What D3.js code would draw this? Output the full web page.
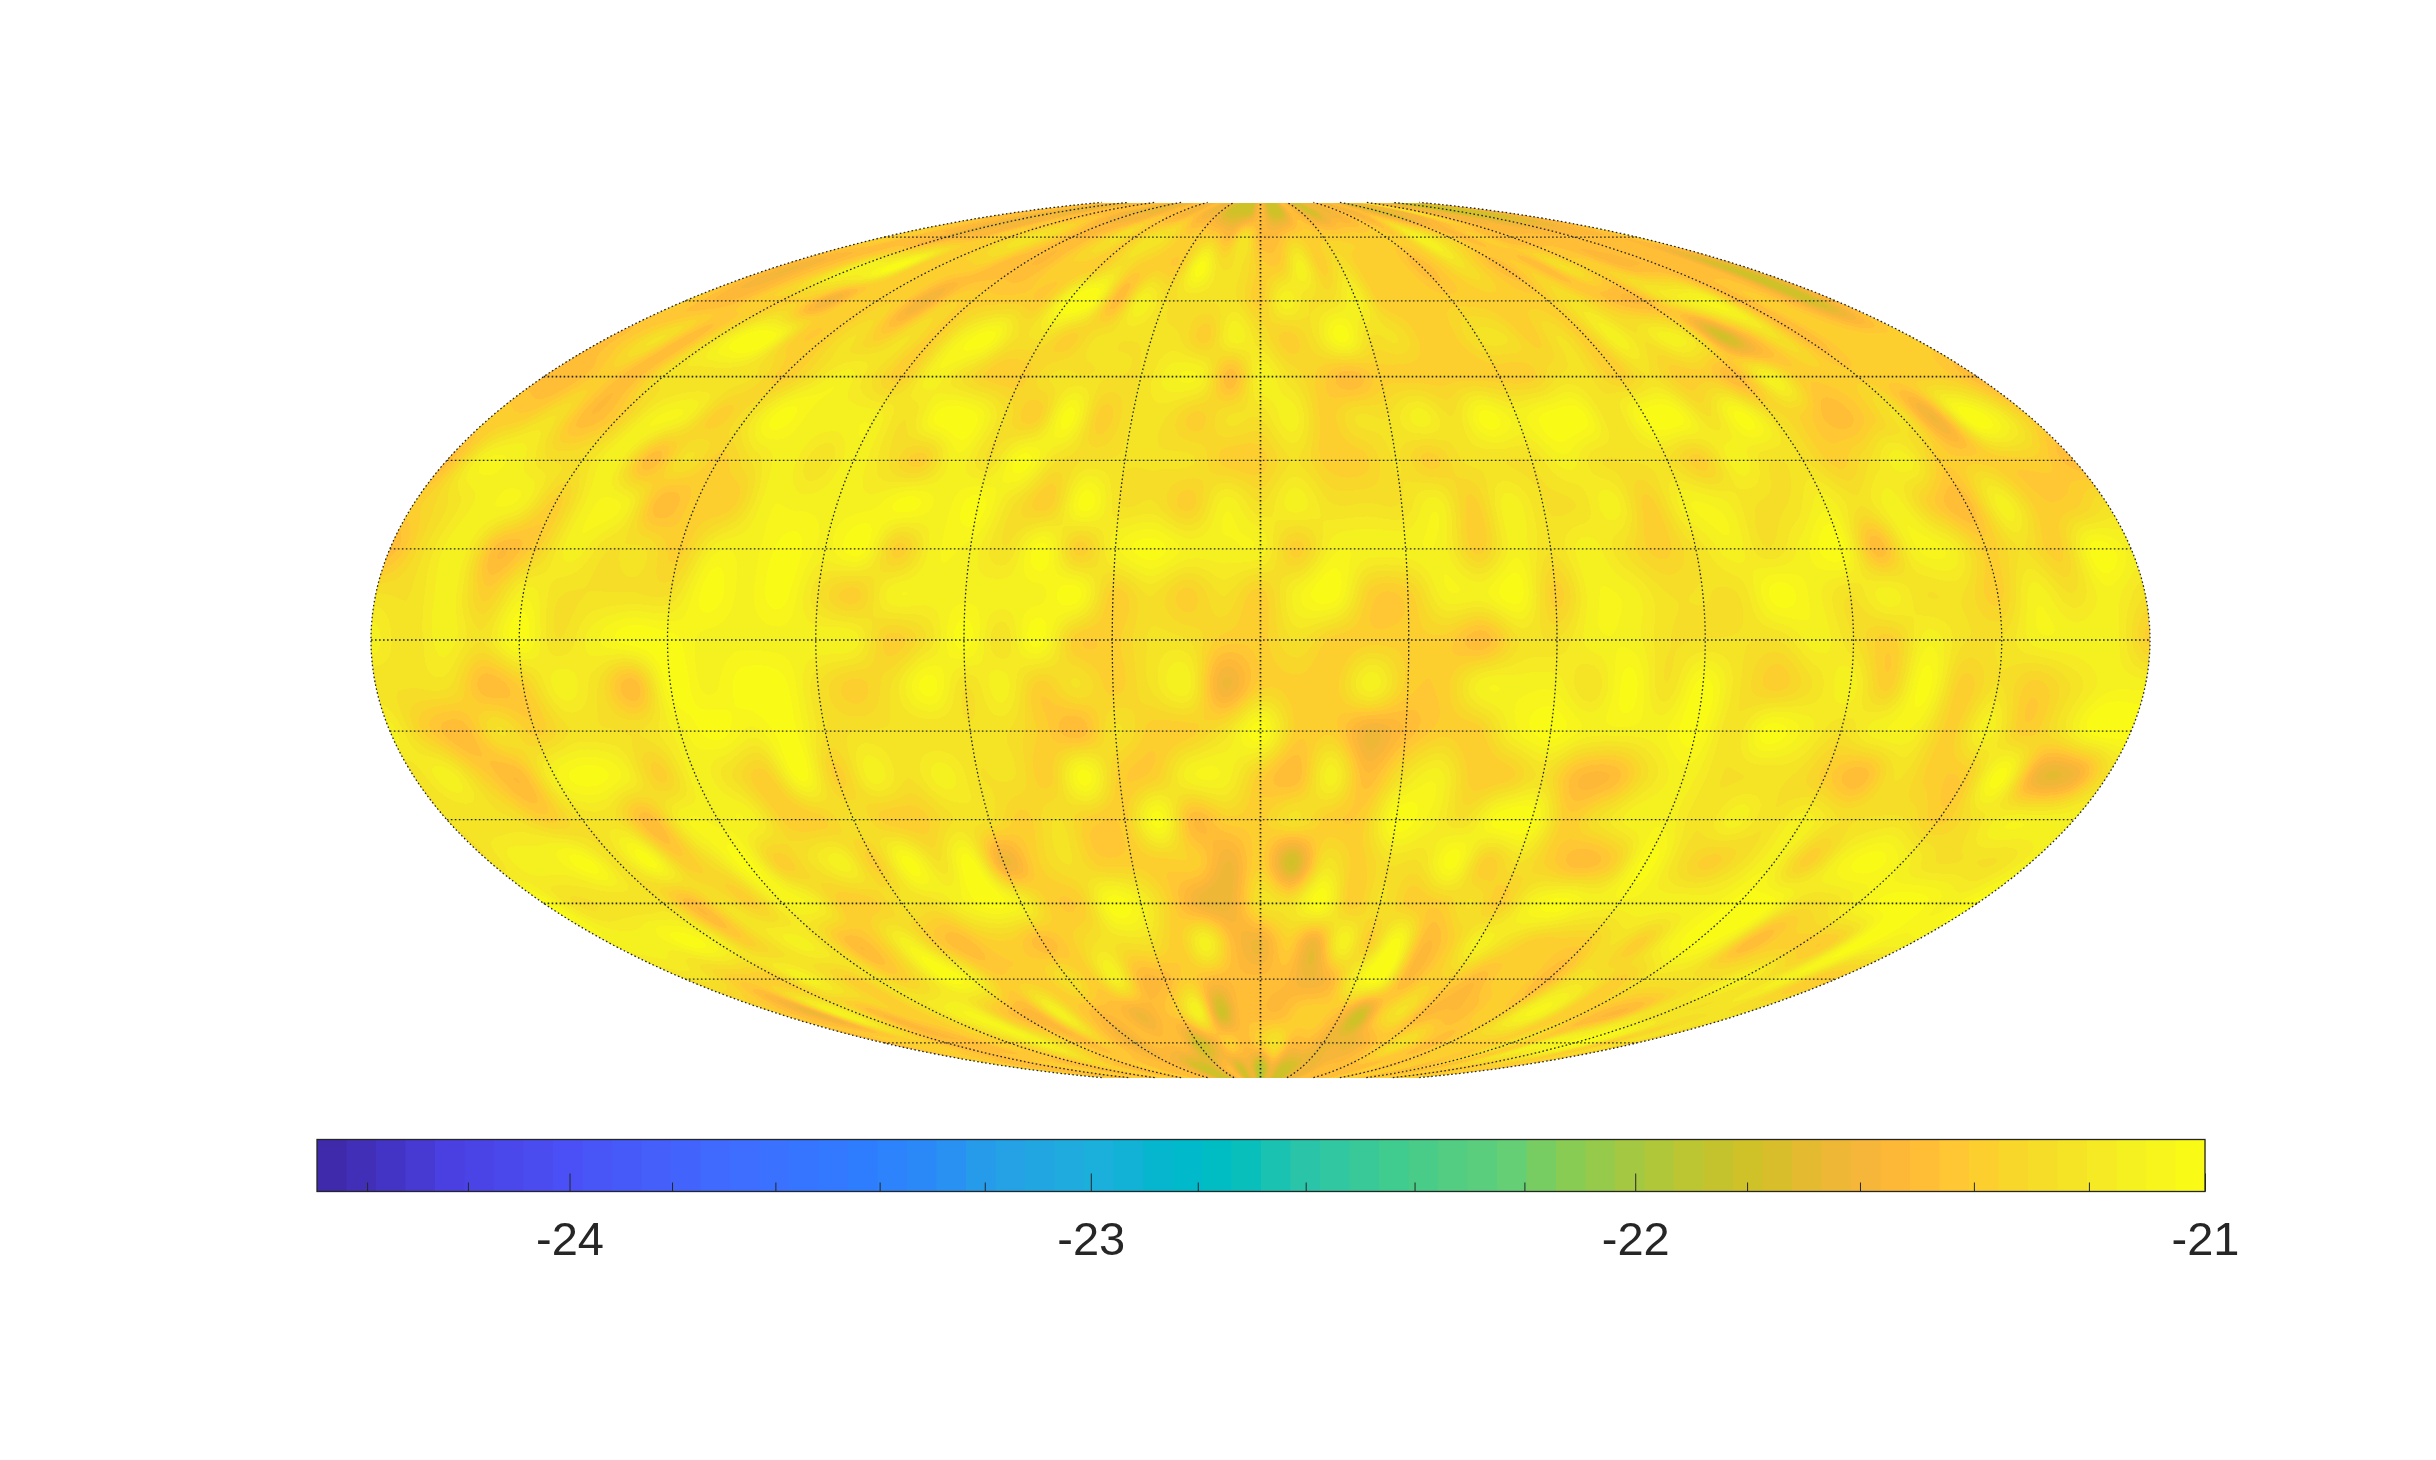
<!DOCTYPE html>
<html>
<head>
<meta charset="utf-8">
<script src="https://cdn.jsdelivr.net/npm/d3@7"></script>
<style>
html,body{margin:0;padding:0;background:#fff;width:2436px;height:1460px;overflow:hidden}
canvas,svg{position:absolute;left:0;top:0}
</style>
</head>
<body>
<canvas id="field" width="2436" height="1460"></canvas>
<svg id="chart" width="2436" height="1460"></svg>
<script>
// Longitudes of the field columns: -180 ... 180 in 7.5 degree steps
const fieldLons = d3.range(-180, 180.01, 7.5);
// Latitudes of the field rows, north to south
const fieldLats = d3.range(82.5, -82.51, -7.5);

const lat_p825 = [-21.5,-21.5,-21.5,-21.62,-21.62,-21.62,-21.62,-21.5,-21.5,-21.5,-21.5,-21.62,-21.62,-21.62,-21.62,-21.5,-21.5,
 -21.62,-21.5,-21.62,-21.62,-21.78,-21.78,-21.78,-21.5,-21.78,-21.78,-21.5,-21.62,-21.78,-21.62,-21.62,-21.5,
 -21.62,-21.5,-21.62,-21.78,-21.62,-21.62,-21.25,-21.5,-21.62,-21.62,-21.78,-21.78,-21.78,-21.78,-21.62,-21.62];
const lat_p75 = [-21.38,-21.38,-21.5,-21.5,-21.62,-21.5,-21.5,-21.38,-21.38,-21.25,-21.25,-21.38,-21.5,-21.5,-21.38,-21.25,-21.38,
 -21.25,-21.25,-21.38,-21.38,-21.38,-21.5,-21.25,-21.5,-21.5,-21.38,-21.38,-21.38,-21.38,-21.38,-21.38,-21.38,
 -21.38,-21.12,-21.25,-21.38,-21.5,-21.38,-21.5,-21.5,-21.5,-21.5,-21.5,-21.5,-21.5,-21.5,-21.5,-21.38];
const lat_p675 = [-21.5,-21.62,-21.5,-21.38,-21.12,-21.12,-21.02,-21.38,-21.38,-21.38,-21.38,-21.5,-21.5,-21.5,-21.38,-21.38,-21.38,
 -21.25,-21.38,-21.38,-21.38,-21.02,-21.25,-21.25,-21.38,-21.38,-21.12,-21.38,-21.25,-21.38,-21.38,-21.38,-21.5,
 -21.38,-21.25,-21.38,-21.5,-21.38,-21.5,-21.25,-21.38,-21.38,-21.5,-21.5,-21.5,-21.5,-21.5,-21.78,-21.62];
const lat_p60 = [-21.38,-21.5,-21.5,-21.38,-21.38,-21.38,-21.62,-21.38,-21.38,-21.38,-21.62,-21.38,-21.38,-21.38,-21.38,-21.38,-21.02,
 -21.02,-21.5,-21.12,-21.25,-21.25,-21.25,-21.25,-21.38,-21.12,-21.25,-21.25,-21.12,-21.38,-21.38,-21.38,-21.38,
 -21.38,-21.38,-21.38,-21.38,-21.25,-21.38,-21.5,-21.5,-21.25,-21.12,-21.12,-21.5,-21.38,-21.5,-21.78,-21.5];
const lat_p525 = [-21.5,-21.38,-21.25,-21.5,-21.25,-21.02,-21.02,-21.38,-21.38,-21.25,-21.38,-21.25,-21.38,-21.12,-21.02,-21.25,-21.25,
 -21.38,-21.25,-21.25,-21.25,-21.25,-21.38,-21.12,-21.25,-21.38,-21.25,-21.02,-21.25,-21.25,-21.38,-21.38,-21.25,
 -21.25,-21.38,-21.25,-21.38,-21.12,-21.25,-21.12,-21.25,-21.78,-21.5,-21.25,-21.5,-21.38,-21.38,-21.38,-21.38];
const lat_p45 = [-21.5,-21.5,-21.38,-21.5,-21.25,-21.25,-21.25,-21.25,-21.38,-21.25,-21.12,-21.25,-21.38,-21.12,-21.25,-21.38,-21.38,
 -21.25,-21.25,-21.25,-21.25,-21.12,-21.12,-21.5,-21.12,-21.25,-21.38,-21.5,-21.38,-21.38,-21.38,-21.38,-21.38,
 -21.38,-21.25,-21.25,-21.38,-21.25,-21.38,-21.38,-21.5,-21.12,-21.38,-21.38,-21.38,-21.38,-21.38,-21.38,-21.5];
const lat_p375 = [-21.38,-21.38,-21.25,-21.5,-21.38,-21.12,-21.12,-21.38,-21.25,-21.02,-21.12,-21.12,-21.12,-21.25,-21.02,-21.02,-21.25,
 -21.38,-21.02,-21.38,-21.25,-21.25,-21.38,-21.25,-21.25,-21.12,-21.38,-21.25,-21.25,-21.12,-21.25,-21.02,-21.12,
 -21.02,-21.02,-21.25,-21.02,-21.02,-21.25,-21.02,-21.25,-21.38,-21.5,-21.38,-21.25,-21.62,-21.02,-21.12,-21.38];
const lat_p30 = [-21.5,-21.12,-21.12,-21.25,-21.25,-21.12,-21.5,-21.25,-21.38,-21.25,-21.12,-21.25,-21.12,-21.25,-21.38,-21.12,-21.25,
 -21.02,-21.25,-21.25,-21.25,-21.25,-21.25,-21.38,-21.38,-21.25,-21.38,-21.38,-21.25,-21.38,-21.25,-21.25,-21.25,
 -21.12,-21.25,-21.25,-21.25,-21.38,-21.12,-21.25,-21.25,-21.38,-21.25,-21.12,-21.38,-21.38,-21.38,-21.38,-21.5];
const lat_p225 = [-21.38,-21.25,-21.12,-21.12,-21.38,-21.12,-21.12,-21.5,-21.38,-21.38,-21.12,-21.12,-21.12,-21.12,-21.02,-21.12,-21.02,
 -21.25,-21.38,-21.02,-21.25,-21.25,-21.38,-21.12,-21.25,-21.12,-21.25,-21.25,-21.25,-21.12,-21.38,-21.12,-21.25,
 -21.25,-21.12,-21.38,-21.12,-21.12,-21.25,-21.25,-21.12,-21.25,-21.12,-21.38,-21.5,-21.12,-21.38,-21.38,-21.25];
const lat_p15 = [-21.5,-21.25,-21.12,-21.5,-21.38,-21.12,-21.25,-21.25,-21.38,-21.12,-21.12,-21.02,-21.12,-21.02,-21.38,-21.12,-21.12,
 -21.25,-21.02,-21.38,-21.12,-21.02,-21.12,-21.12,-21.12,-21.38,-21.12,-21.12,-21.12,-21.12,-21.38,-21.12,-21.25,
 -21.12,-21.25,-21.38,-21.25,-21.12,-21.25,-21.12,-21.02,-21.5,-21.12,-21.12,-21.38,-21.25,-21.38,-21.02,-21.12];
const lat_p75s = [-21.25,-21.25,-21.12,-21.38,-21.12,-21.25,-21.25,-21.25,-21.25,-21.02,-21.12,-21.02,-21.25,-21.38,-21.12,-21.12,-21.12,
 -21.12,-21.12,-21.02,-21.38,-21.25,-21.38,-21.25,-21.38,-21.12,-21.02,-21.38,-21.38,-21.12,-21.12,-21.02,-21.38,
 -21.12,-21.12,-21.25,-21.25,-21.25,-21.02,-21.12,-21.25,-21.12,-21.25,-21.25,-21.38,-21.12,-21.25,-21.12,-21.25];
const lat_0 = [-21.12,-21.25,-21.12,-21.25,-21.02,-21.25,-21.12,-21.02,-21.02,-21.12,-21.12,-21.12,-21.12,-21.12,-21.38,-21.25,-21.02,
 -21.25,-21.02,-21.38,-21.38,-21.25,-21.25,-21.38,-21.38,-21.25,-21.38,-21.38,-21.38,-21.38,-21.5,-21.25,-21.25,
 -21.12,-21.12,-21.25,-21.25,-21.25,-21.25,-21.12,-21.25,-21.38,-21.12,-21.25,-21.25,-21.12,-21.12,-21.12,-21.38];
const lat_m75s = [-21.25,-21.25,-21.25,-21.5,-21.38,-21.12,-21.25,-21.5,-21.02,-21.12,-21.02,-21.02,-21.25,-21.38,-21.25,-21.02,-21.25,
 -21.12,-21.38,-21.25,-21.38,-21.25,-21.12,-21.62,-21.38,-21.38,-21.38,-21.12,-21.38,-21.38,-21.12,-21.12,-21.12,
 -21.25,-21.02,-21.25,-21.02,-21.25,-21.38,-21.25,-21.12,-21.38,-21.02,-21.38,-21.25,-21.38,-21.25,-21.12,-21.12];
const lat_m15 = [-21.12,-21.38,-21.5,-21.25,-21.38,-21.25,-21.25,-21.25,-21.12,-21.02,-21.12,-21.02,-21.25,-21.25,-21.25,-21.25,-21.25,
 -21.25,-21.38,-21.5,-21.25,-21.38,-21.38,-21.25,-21.02,-21.38,-21.38,-21.62,-21.5,-21.38,-21.38,-21.12,-21.02,
 -21.12,-21.12,-21.12,-21.02,-21.25,-21.02,-21.12,-21.25,-21.12,-21.12,-21.38,-21.12,-21.38,-21.25,-21.02,-21.02];
const lat_m225 = [-21.25,-21.12,-21.38,-21.5,-21.12,-21.02,-21.12,-21.38,-21.12,-21.25,-21.38,-21.02,-21.38,-21.12,-21.25,-21.12,-21.25,
 -21.25,-21.38,-21.02,-21.38,-21.38,-21.12,-21.12,-21.38,-21.5,-21.12,-21.5,-21.25,-21.12,-21.38,-21.38,-21.25,
 -21.5,-21.5,-21.25,-21.12,-21.25,-21.25,-21.25,-21.38,-21.5,-21.25,-21.38,-21.38,-21.02,-21.62,-21.62,-21.25];
const lat_m30 = [-21.25,-21.25,-21.25,-21.38,-21.25,-21.25,-21.5,-21.12,-21.12,-21.12,-21.38,-21.38,-21.25,-21.38,-21.38,-21.25,-21.25,
 -21.38,-21.25,-21.38,-21.38,-21.02,-21.5,-21.38,-21.38,-21.25,-21.38,-21.38,-21.02,-21.12,-21.25,-21.02,-21.02,
 -21.38,-21.25,-21.12,-21.12,-21.25,-21.12,-21.25,-21.12,-21.25,-21.25,-21.25,-21.38,-21.25,-21.12,-21.12,-21.12];
const lat_m375 = [-21.25,-21.12,-21.12,-21.02,-21.25,-21.02,-21.38,-21.25,-21.02,-21.38,-21.25,-21.12,-21.38,-21.02,-21.25,-21.02,-21.62,
 -21.38,-21.25,-21.38,-21.38,-21.38,-21.38,-21.62,-21.38,-21.78,-21.25,-21.38,-21.25,-21.25,-21.02,-21.38,-21.25,
 -21.38,-21.5,-21.38,-21.02,-21.25,-21.38,-21.25,-21.12,-21.38,-21.12,-21.02,-21.12,-21.25,-21.25,-21.25,-21.12];
const lat_m45 = [-21.02,-21.25,-21.25,-21.25,-21.25,-21.5,-21.25,-21.38,-21.12,-21.12,-21.38,-21.38,-21.25,-21.25,-21.12,-21.02,-21.12,
 -21.38,-21.38,-21.02,-21.12,-21.38,-21.62,-21.62,-21.25,-21.25,-21.02,-21.38,-21.25,-21.38,-21.38,-21.25,-21.38,
 -21.12,-21.02,-21.12,-21.12,-21.12,-21.12,-21.12,-21.02,-21.02,-21.25,-21.25,-21.12,-21.02,-21.02,-21.12,-21.02];
const lat_m525 = [-21.12,-21.12,-21.12,-21.02,-21.12,-21.38,-21.25,-21.12,-21.25,-21.5,-21.38,-21.12,-21.38,-21.5,-21.38,-21.38,-21.5,
 -21.38,-21.25,-21.25,-21.25,-21.38,-21.12,-21.5,-21.62,-21.38,-21.62,-21.12,-21.38,-21.02,-21.5,-21.38,-21.12,
 -21.25,-21.38,-21.38,-21.38,-21.25,-21.38,-21.12,-21.02,-21.12,-21.5,-21.38,-21.38,-21.38,-21.02,-21.12,-21.12];
const lat_m60 = [-21.25,-21.25,-21.38,-21.38,-21.38,-21.12,-21.25,-21.38,-21.25,-21.38,-21.25,-21.02,-21.12,-21.38,-21.38,-21.38,-21.25,
 -21.38,-21.12,-21.5,-21.5,-21.38,-21.5,-21.5,-21.5,-21.5,-21.62,-21.5,-21.12,-21.02,-21.5,-21.38,-21.38,
 -21.5,-21.38,-21.38,-21.5,-21.25,-21.25,-21.38,-21.25,-21.25,-21.25,-21.25,-21.12,-21.25,-21.12,-21.38,-21.38];
const lat_m675 = [-21.38,-21.5,-21.62,-21.12,-21.25,-21.5,-21.38,-21.38,-21.25,-21.12,-21.12,-21.38,-21.5,-21.5,-21.12,-21.38,-21.5,
 -21.5,-21.62,-21.5,-21.38,-21.12,-21.78,-21.5,-21.5,-21.5,-21.38,-21.38,-21.5,-21.78,-21.38,-21.25,-21.5,
 -21.5,-21.5,-21.38,-21.38,-21.12,-21.12,-21.38,-21.38,-21.5,-21.5,-21.25,-21.25,-21.25,-21.25,-21.25,-21.25];
const lat_m75 = [-21.5,-21.38,-21.38,-21.38,-21.5,-21.5,-21.5,-21.38,-21.38,-21.25,-21.12,-21.25,-21.38,-21.5,-21.38,-21.5,-21.62,
 -21.5,-21.5,-21.5,-21.78,-21.62,-21.38,-21.5,-21.38,-21.25,-21.5,-21.5,-21.62,-21.62,-21.62,-21.5,-21.38,
 -21.25,-21.38,-21.5,-21.38,-21.38,-21.38,-21.38,-21.25,-21.38,-21.12,-21.12,-21.02,-21.12,-21.38,-21.25,-21.38];
const lat_m825 = [-21.38,-21.38,-21.5,-21.5,-21.5,-21.38,-21.38,-21.5,-21.5,-21.38,-21.38,-21.5,-21.5,-21.38,-21.5,-21.5,-21.5,
 -21.62,-21.78,-21.78,-21.62,-21.5,-21.78,-21.62,-21.95,-21.62,-21.78,-21.78,-21.62,-21.62,-21.5,-21.5,-21.5,
 -21.5,-21.5,-21.38,-21.5,-21.38,-21.38,-21.5,-21.38,-21.5,-21.38,-21.38,-21.5,-21.38,-21.38,-21.38,-21.5];

const fieldRows = [lat_p825,lat_p75,lat_p675,lat_p60,lat_p525,lat_p45,lat_p375,lat_p30,lat_p225,lat_p15,lat_p75s,lat_0,
  lat_m75s,lat_m15,lat_m225,lat_m30,lat_m375,lat_m45,lat_m525,lat_m60,lat_m675,lat_m75,lat_m825];

// Colour bar
const colorDomain = [-24.5, -21];
const majorTicks = [-24, -23, -22, -21];
const minorTicks = [-24.4,-24.2,-23.8,-23.6,-23.4,-23.2,-22.8,-22.6,-22.4,-22.2,-21.8,-21.6,-21.4,-21.2];
const colorSteps = 64;
const colorStops = ["#3c27a3","#4a3fe0","#4a50f5","#3f6cff","#2f7dff","#2a8df5","#25a0e6","#1eaedc","#00b8cc","#00bdc0",
  "#28c5ab","#45cc8a","#62cf78","#85cc55","#a8c83f","#bcc632","#cec128","#e4bb30","#f5b53a","#ffb936","#ffc733","#fad32c","#f6de26","#f4ee22","#fafd14"];
const stopPositions = [0,0.07,0.133,0.22,0.29,0.33,0.36,0.41,0.455,0.484,0.52,0.58,0.63,0.66,0.70,0.727,0.757,0.789,0.817,0.842,0.867,0.892,0.917,0.955,1];

// Graticule
const parallels = [-75,-60,-45,-30,-15,0,15,30,45,60,75];
const meridians = [-180,-150,-120,-90,-60,-30,0,30,60,90,120,150,180];
const heavyParallels = [-45,45];
const heavyMeridians = [0];
const latLimit = 86;

// Mollweide projection (d3 core projection factory with a raw transform)
function mollweideRaw(lambda, phi) {
  let t = phi;
  const k = Math.PI * Math.sin(phi);
  if (Math.abs(Math.abs(phi) - Math.PI / 2) > 1e-6) {
    for (let i = 0; i < 30; i++) {
      const d = (t * 2 + Math.sin(2 * t) - k) / (2 + 2 * Math.cos(2 * t));
      t -= d;
      if (Math.abs(d) < 1e-9) break;
    }
  }
  return [2 * Math.SQRT2 / Math.PI * lambda * Math.cos(t), Math.SQRT2 * Math.sin(t)];
}
mollweideRaw.invert = function (x, y) {
  const t = Math.asin(Math.max(-1, Math.min(1, y / Math.SQRT2)));
  return [Math.PI * x / (2 * Math.SQRT2 * Math.cos(t)), Math.asin(Math.max(-1, Math.min(1, (2 * t + Math.sin(2 * t)) / Math.PI)))];
};

const W = 2436, H = 1460;
const mapCx = 1260.5, mapCy = 640, mapHalfW = 889.5, mapHalfH = mapHalfW / 2;
const projection = d3.geoProjection(mollweideRaw)
  .scale(mapHalfW / (2 * Math.SQRT2))
  .translate([mapCx, mapCy])
  .precision(0.1);

// Colour scales
const barX0 = 317, barX1 = 2205, barY0 = 1139.5, barY1 = 1191.5;
const barScale = d3.scaleLog().domain(colorDomain).range([barX0, barX1]);
const stopColor = d3.scaleLinear().domain(stopPositions).range(colorStops).interpolate(d3.interpolateRgb);
const palette = d3.range(colorSteps).map(i => stopColor((i + 0.5) / colorSteps));
const valueColor = d3.scaleQuantize().domain([barX0, barX1]).range(palette);
const colorOf = v => valueColor(barScale(Math.max(colorDomain[0], Math.min(colorDomain[1], v))));

// Field sampling (Catmull-Rom between the grid nodes)
const lonScale = d3.scaleLinear().domain([fieldLons[0], fieldLons[fieldLons.length - 1]]).range([0, fieldLons.length - 1]);
const latScale = d3.scaleLinear().domain([fieldLats[0], fieldLats[fieldLats.length - 1]]).range([0, fieldLats.length - 1]);
function cr(a, b, c, d, t) {
  return b + 0.5 * t * (c - a + t * (2 * a - 5 * b + 4 * c - d + t * (3 * (b - c) + d - a)));
}
function sample(lon, lat) {
  const u = Math.max(0, Math.min(fieldLons.length - 1.0001, lonScale(lon)));
  const v = Math.max(0, Math.min(fieldLats.length - 1.0001, latScale(lat)));
  const i = Math.floor(u), j = Math.floor(v), fu = u - i, fv = v - j;
  const col = new Array(4);
  for (let k = 0; k < 4; k++) {
    const row = fieldRows[Math.max(0, Math.min(fieldRows.length - 1, j - 1 + k))];
    col[k] = cr(row[Math.max(0, i - 1)], row[i], row[i + 1], row[Math.min(row.length - 1, i + 2)], fu);
  }
  return cr(col[0], col[1], col[2], col[3], fv);
}

// Paint the field inside the projection's ellipse
const ctx = document.getElementById("field").getContext("2d");
const img = ctx.createImageData(W, H);
const rgbCache = new Map();
function rgbOf(c) {
  if (!rgbCache.has(c)) { const r = d3.rgb(c); rgbCache.set(c, [r.r, r.g, r.b]); }
  return rgbCache.get(c);
}
const yTop = projection([0, latLimit])[1], yBot = projection([0, -latLimit])[1];
for (let py = Math.ceil(yTop); py <= yBot; py++) {
  for (let px = Math.floor(mapCx - mapHalfW); px <= mapCx + mapHalfW; px++) {
    const ex = (px + 0.5 - mapCx) / mapHalfW, ey = (py + 0.5 - mapCy) / mapHalfH;
    if (ex * ex + ey * ey > 1) continue;
    const g = projection.invert([px + 0.5, py + 0.5]);
    const c = rgbOf(colorOf(sample(g[0], g[1])));
    const o = (py * W + px) * 4;
    img.data[o] = c[0]; img.data[o + 1] = c[1]; img.data[o + 2] = c[2]; img.data[o + 3] = 255;
  }
}
ctx.putImageData(img, 0, 0);

const svg = d3.select("#chart");

// Graticule
const line = d3.line().x(d => projection(d)[0]).y(d => projection(d)[1]);
const grat = svg.append("g").attr("fill", "none").attr("stroke", "#1f2430").attr("stroke-dasharray", "1.6 2.4");
grat.selectAll(".par").data(parallels).join("path").attr("class", "par")
  .attr("stroke-width", d => heavyParallels.includes(d) ? 1.7 : 1.3)
  .attr("d", lat => line(d3.range(-180, 180.01, 2).map(lon => [lon, lat])));
grat.selectAll(".mer").data(meridians).join("path").attr("class", "mer")
  .attr("stroke-width", d => heavyMeridians.includes(d) ? 1.7 : 1.3)
  .attr("d", lon => line(d3.range(-latLimit, latLimit + 0.01, 0.5).map(lat => [lon, lat])));

// Colour bar
const stepW = (barX1 - barX0) / colorSteps;
svg.append("g").selectAll("rect").data(palette).join("rect")
  .attr("x", (d, i) => barX0 + i * stepW)
  .attr("y", barY0)
  .attr("width", stepW + 0.5)
  .attr("height", barY1 - barY0)
  .attr("fill", d => d);

const axisMinor = d3.axisBottom(barScale).tickValues(minorTicks).tickSize(-9).tickFormat("");
const axisMajor = d3.axisBottom(barScale).tickValues(majorTicks).tickSize(-18).tickPadding(30).tickFormat(d => String(d));
[axisMinor, axisMajor].forEach(ax => {
  const g = svg.append("g").attr("transform", `translate(0,${barY1})`).call(ax);
  g.select(".domain").remove();
  g.selectAll("line").attr("stroke", "#262626").attr("stroke-width", 1);
  g.selectAll("text").attr("fill", "#262626").attr("font-family", "'Liberation Sans', Arial, sans-serif").attr("font-size", 47);
});
svg.append("rect").attr("x", barX0).attr("y", barY0).attr("width", barX1 - barX0).attr("height", barY1 - barY0)
  .attr("fill", "none").attr("stroke", "#262626").attr("stroke-width", 1.3);
</script>
</body>
</html>
